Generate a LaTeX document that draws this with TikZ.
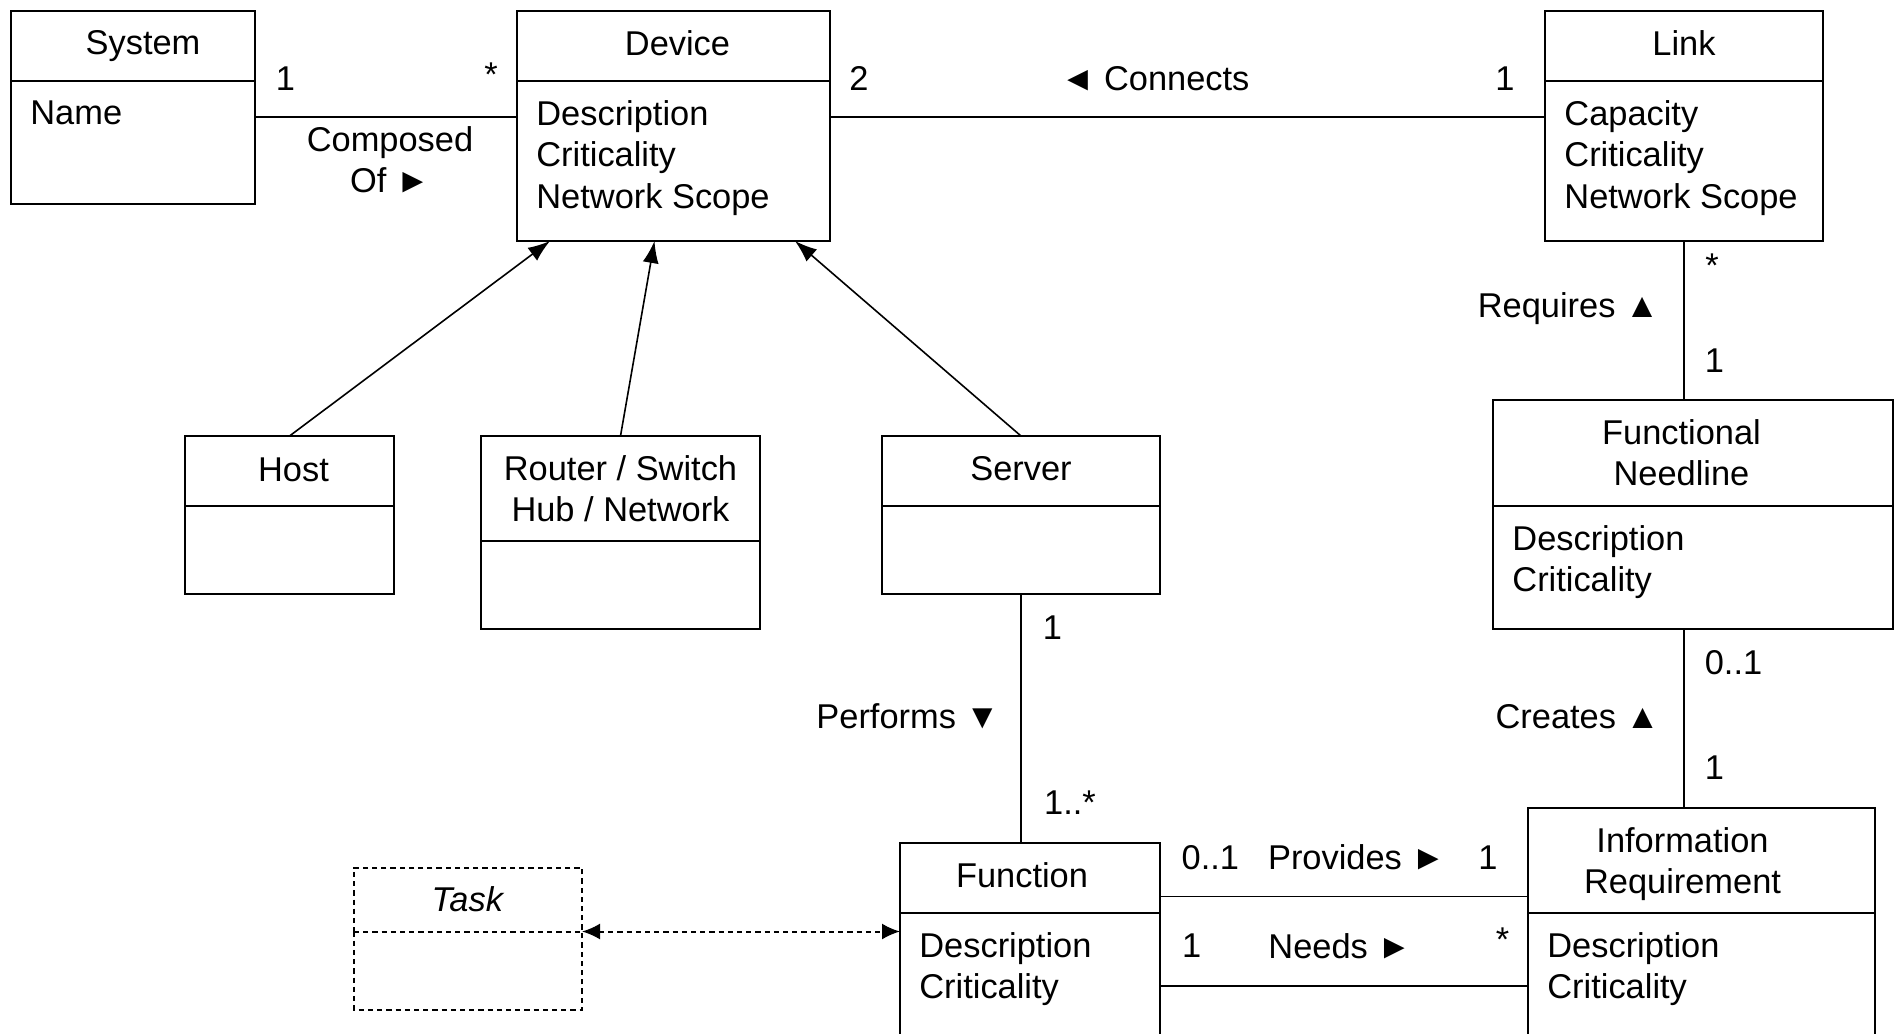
\documentclass[tikz,border=0pt]{standalone}
\usepackage{fontspec}
\setmainfont{Liberation Sans}
\usetikzlibrary{positioning,arrows.meta}
\newcommand{\px}{0.5pt}

\tikzset{
    classhead/.style={rectangle, draw=black, line width=1pt, outer sep=0pt,
        inner sep=0pt, align=center},
    classbody/.style={rectangle, draw=black, line width=1pt, outer sep=0pt,
        inner sep=0pt},
    attrs/.style={anchor=north west, inner xsep=9.5pt, inner ysep=9.7pt,
        align=left},
    dashbox/.style={dash pattern=on 2.6pt off 2pt},
    assoc/.style={line width=0.9pt},
    inherit/.style={line width=0.8pt, -{Latex[length=11pt,width=8pt]}},
    mult/.style={inner sep=0pt, align=center}
}

\begin{document}
\begin{tikzpicture}[x=\px, y=-\px, font=\fontsize{17.2}{20.6}\selectfont]

\useasboundingbox (0,0) rectangle (1897,1034);
\clip (0,0) rectangle (1897,1034);

% System
\node[classhead, minimum width=244*\px, minimum height=70*\px] (sys) at (133,46)
    {\hspace*{10pt}System};
\node[classbody, minimum width=244*\px, minimum height=123*\px, below=0pt of sys,
    label={[attrs]north west:Name}] (sys-b) {};

% Device
\node[classhead, minimum width=313*\px, minimum height=70*\px, text depth=3pt] (dev)
    at (673.5,46) {\hspace*{4pt}Device};
\node[classbody, minimum width=313*\px, minimum height=160*\px, below=0pt of dev,
    label={[attrs]north west:{Description\\Criticality\\Network Scope}}] (dev-b) {};

% Link
\node[classhead, minimum width=278*\px, minimum height=70*\px, text depth=3pt] (link)
    at (1684,46) {Link};
\node[classbody, minimum width=278*\px, minimum height=160*\px, below=0pt of link,
    label={[attrs]north west:{Capacity\\Criticality\\Network Scope}}] (link-b) {};

% Host
\node[classhead, minimum width=209*\px, minimum height=70*\px, text depth=1.5pt] (host)
    at (289.5,471) {\hspace*{4pt}Host};
\node[classbody, minimum width=209*\px, minimum height=88*\px, below=0pt of host] (host-b) {};

% Router / Switch
\node[classhead, minimum width=279*\px, minimum height=105*\px] (router) at (620.5,488.5)
    {Router / Switch\\Hub / Network};
\node[classbody, minimum width=279*\px, minimum height=88*\px, below=0pt of router] (router-b) {};

% Server
\node[classhead, minimum width=278*\px, minimum height=70*\px, text depth=3pt] (server)
    at (1021,471) {Server};
\node[classbody, minimum width=278*\px, minimum height=88*\px, below=0pt of server] (server-b) {};

% Functional Needline
\node[classhead, minimum width=400*\px, minimum height=106*\px] (fn) at (1693,453)
    {\hspace*{-11.5pt}Functional\\\hspace*{-11.5pt}Needline};
\node[classbody, minimum width=400*\px, minimum height=123*\px, below=0pt of fn,
    label={[attrs]north west:{Description\\Criticality}}] (fn-b) {};

% Information Requirement
\node[classhead, minimum width=347*\px, minimum height=105*\px, text depth=0pt] (ir)
    at (1701.5,860.5) {\hspace*{-19pt}Information\\\hspace*{-19pt}Requirement};
\node[classbody, minimum width=347*\px, minimum height=150*\px, below=0pt of ir,
    label={[attrs]north west:{Description\\Criticality}}] (ir-b) {};

% Function
\node[classhead, minimum width=260*\px, minimum height=70*\px, text depth=3pt] (fun)
    at (1030,878) {\hspace*{-8pt}Function};
\node[classbody, minimum width=260*\px, minimum height=150*\px, below=0pt of fun,
    label={[attrs]north west:{Description\\Criticality}}] (fun-b) {};

% Task (dashed, body drawn on three sides only)
\node[classhead, dashbox, minimum width=228*\px, minimum height=64*\px] (task) at (468,899.5)
    {\textit{Task}};
\node[classbody, draw=none, minimum width=228*\px, minimum height=78*\px, below=0pt of task] (task-b) {};
\draw[line width=1pt, dashbox] (task.south west) -- (task-b.south west)
    -- (task-b.south east) -- (task.south east);

% Generalisation
\draw[inherit] (host.north) -- ([xshift=-61.75pt]dev-b.south);
\draw[inherit] (router.north) -- ([xshift=-9.5pt]dev-b.south);
\draw[inherit] (server.north) -- ([xshift=60.75pt]dev-b.south);

% Associations
\draw[assoc] ([yshift=-18pt]sys-b.north east) -- ([yshift=-18pt]dev-b.north west);
\draw[assoc] ([yshift=-18pt]dev-b.north east) -- ([yshift=-18pt]link-b.north west);
\draw[assoc] (link-b.south) -- (link-b.south |- fn.north);
\draw[assoc] (link-b.south |- fn-b.south) -- (link-b.south |- ir.north);
\draw[assoc] (server-b.south) -- (server-b.south |- fun.north);
\draw[assoc] ([yshift=8.25pt]fun.south east) -- ([yshift=8.25pt]ir.south west);
\draw[assoc] ([yshift=-36.5pt]fun-b.north east) -- ([yshift=-36.5pt]ir-b.north west);
\draw[line width=1pt, dashbox, {Latex[length=9pt,width=8pt]}-{Latex[length=9pt,width=8pt]}]
    (task.south east) -- (task.south east -| fun-b.west);

% Labels
\node[mult] (m-sys) at (285.5,78.6) {1};
\node[mult] (m-dev) at (491,75) {*};
\node[mult] (l-comp) at (390,159.5) {Composed\\Of ►};
\node[mult] (m-dev2) at (859,78.6) {2};
\node[mult] (l-conn) at (1155,78.6) {◄ Connects};
\node[mult] (m-link) at (1505,78.6) {1};
\node[mult] (m-link2) at (1712,266) {*};
\node[mult] (l-req) at (1568.5,308.5) {Requires ▲};
\node[mult] (m-fn) at (1714.3,360.5) {1};
\node[mult] (m-fn2) at (1733.5,663) {0..1};
\node[mult] (l-create) at (1577.6,716.2) {Creates ▲};
\node[mult] (m-ir) at (1714.3,768) {1};
\node[mult] (m-server) at (1052.5,628) {1};
\node[mult] (l-perf) at (908,716.2) {Performs ▼};
\node[mult] (m-fun) at (1070,803) {1..*};
\node[mult] (m-prov1) at (1210.4,857.7) {0..1};
\node[mult] (l-prov) at (1356.8,857.7) {Provides ►};
\node[mult] (m-prov2) at (1488,857.7) {1};
\node[mult] (m-need1) at (1191.7,946) {1};
\node[mult] (l-need) at (1340,946) {Needs ►};
\node[mult] (m-need2) at (1502.6,940) {*};

\end{tikzpicture}
\end{document}
